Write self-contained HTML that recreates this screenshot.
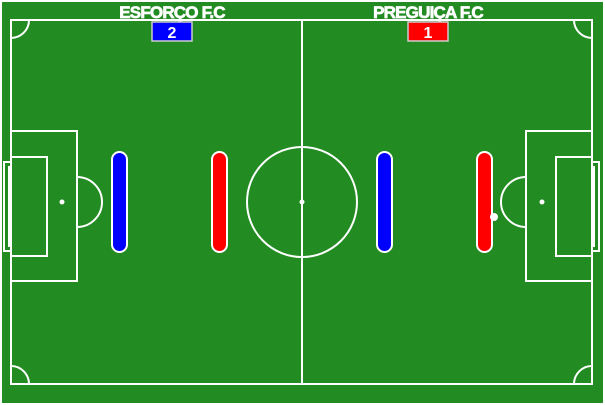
<!DOCTYPE html>
<html><head><meta charset="utf-8"><style>
html,body{margin:0;padding:0;background:#fff;}
svg{display:block}
text{font-family:"Liberation Sans",Arial,sans-serif;font-weight:bold;}
</style></head><body>
<svg width="605" height="405" viewBox="0 0 605 405">
<rect x="2" y="2" width="601" height="401" fill="#228b22"/>
<g fill="none" stroke="#fff" stroke-width="2">
<rect x="11" y="20" width="581" height="364"/>
<line x1="302" y1="20" x2="302" y2="384"/>
<circle cx="302" cy="202" r="55"/>
<rect x="11" y="131" width="66" height="150"/>
<rect x="11" y="157" width="36" height="99"/>
<rect x="4" y="162" width="7" height="89"/>
<path d="M77 177 A25 25 0 0 1 77 227"/>
<rect x="526" y="131" width="66" height="150"/>
<rect x="556" y="157" width="36" height="99"/>
<rect x="592" y="162" width="7" height="89"/>
<path d="M526 177 A25 25 0 0 0 526 227"/>
<path d="M11 38 A18 18 0 0 0 29 20"/>
<path d="M574 20 A18 18 0 0 0 592 38"/>
<path d="M11 366 A18 18 0 0 1 29 384"/>
<path d="M574 384 A18 18 0 0 1 592 366"/>
</g>
<rect x="8" y="166" width="3" height="81" fill="#fff"/>
<rect x="592" y="166" width="3" height="81" fill="#fff"/>
<circle cx="302" cy="202" r="2.5" fill="#fff"/>
<circle cx="62" cy="202" r="2.5" fill="#fff"/>
<circle cx="542" cy="202" r="2.5" fill="#fff"/>
<g stroke="#fff" stroke-width="2">
<rect x="112" y="152" width="15" height="100" rx="7.5" fill="#0000ff"/>
<rect x="212" y="152" width="15" height="100" rx="7.5" fill="#ff0000"/>
<rect x="377" y="152" width="15" height="100" rx="7.5" fill="#0000ff"/>
<rect x="477" y="152" width="15" height="100" rx="7.5" fill="#ff0000"/>
</g>
<circle cx="494" cy="217" r="4" fill="#fff"/>
<text x="172" y="18" text-anchor="middle" font-size="17" fill="#fff" stroke="#fff" stroke-width="0.7" letter-spacing="-0.8">ESFORÇO F.C</text>
<text x="428" y="18" text-anchor="middle" font-size="17" fill="#fff" stroke="#fff" stroke-width="0.7" letter-spacing="-0.8">PREGUIÇA F.C</text>
<rect x="152" y="22" width="40" height="19" fill="#0000ff" stroke="#ccc" stroke-width="1.5"/>
<text x="172" y="38" text-anchor="middle" font-size="16" fill="#fff">2</text>
<rect x="408" y="22" width="40" height="19" fill="#ff0000" stroke="#ccc" stroke-width="1.5"/>
<text x="428" y="38" text-anchor="middle" font-size="16" fill="#fff">1</text>
</svg>
</body></html>
